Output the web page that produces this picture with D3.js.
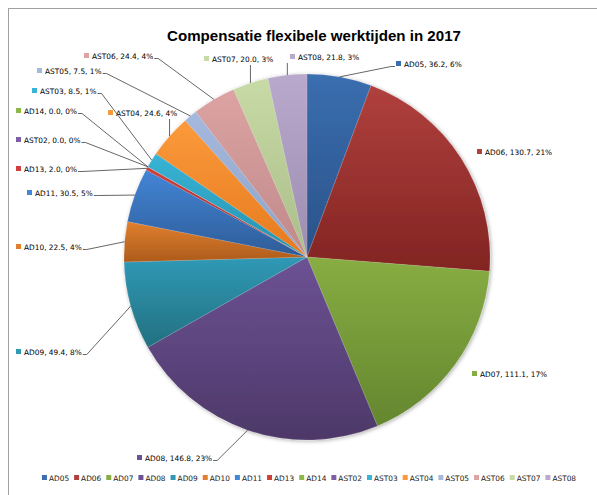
<!DOCTYPE html>
<html>
<head>
<meta charset="utf-8">
<script src="https://cdn.jsdelivr.net/npm/d3@7"></script>
<style>
  body { margin: 0; background: #fff; }
  .lbl { font-family: "DejaVu Sans", Verdana, sans-serif; font-size: 7.4px; fill: #000; }
  .leg { font-family: "DejaVu Sans", Verdana, sans-serif; font-size: 7.4px; fill: #222; }
</style>
</head>
<body>
<div id="chart"></div>
<script>
var svgWidth = 597;
var svgHeight = 495;

// chart data
var categories = ["AD05", "AD06", "AD07", "AD08", "AD09", "AD10", "AD11", "AD13",
  "AD14", "AST02", "AST03", "AST04", "AST05", "AST06", "AST07", "AST08"];
var values = [36.2, 130.7, 111.1, 146.8, 49.4, 22.5, 30.5, 2.0,
  0.0, 0.0, 8.5, 24.6, 7.5, 24.4, 20.0, 21.8];

// slice colours (top, bottom of the gradient)
var colorsTop = ["#3a6eb0", "#b0403d", "#87ad43", "#6c5294", "#3099b6", "#e0802f",
  "#4385d6", "#d13f3c", "#8db849", "#7d5fa5", "#38b4d6", "#fb9a3c",
  "#a5b9de", "#dca3a2", "#c8daa6", "#b9a9cc"];
var colorsBottom = ["#2a5288", "#822422", "#64862e", "#4d3868", "#22707f", "#ad5b1c",
  "#2e5c98", "#a02a28", "#6a8c32", "#5a4078", "#2590ad", "#e67a1e",
  "#8fa2c6", "#c0898a", "#aabe8a", "#9c8db1"];

// label layout: x = left of marker, y = text middle, leader = where the line leaves
var labelLayout = {
  AD05:  { x: 396, y: 64,  leader: "left" },
  AD06:  { x: 477, y: 152, leader: "none" },
  AD07:  { x: 472, y: 374, leader: "none" },
  AD08:  { x: 137, y: 458, leader: "right" },
  AD09:  { x: 16,  y: 352, leader: "right" },
  AD10:  { x: 16,  y: 247, leader: "right" },
  AD11:  { x: 27,  y: 193, leader: "right" },
  AD13:  { x: 16,  y: 169, leader: "right" },
  AD14:  { x: 16,  y: 111, leader: "right" },
  AST02: { x: 16,  y: 140, leader: "right" },
  AST03: { x: 32,  y: 91,  leader: "right" },
  AST04: { x: 108, y: 113, leader: "below" },
  AST05: { x: 37,  y: 71,  leader: "right" },
  AST06: { x: 84,  y: 56,  leader: "right" },
  AST07: { x: 204, y: 59,  leader: "below" },
  AST08: { x: 290, y: 57,  leader: "below" }
};

var cx = 307, cy = 257, radius = 183;
var total = d3.sum(values);

var rows = categories.map(function(c, i) {
  return { name: c, value: values[i], i: i };
});

var svg = d3.select("#chart").append("svg")
  .attr("width", svgWidth)
  .attr("height", svgHeight);

var defs = svg.append("defs");

// gradient for each slice
rows.forEach(function(d) {
  var g = defs.append("linearGradient")
    .attr("id", "grad" + d.i)
    .attr("x1", 0).attr("y1", 0).attr("x2", 0).attr("y2", 1);
  g.append("stop").attr("offset", "0%").attr("stop-color", colorsTop[d.i]);
  g.append("stop").attr("offset", "100%").attr("stop-color", colorsBottom[d.i]);
});

var shadow = defs.append("filter").attr("id", "shadow")
  .attr("x", "-10%").attr("y", "-10%").attr("width", "120%").attr("height", "120%");
shadow.append("feGaussianBlur").attr("in", "SourceAlpha").attr("stdDeviation", 2);
shadow.append("feOffset").attr("dx", 1).attr("dy", 1).attr("result", "b");
shadow.append("feComponentTransfer").append("feFuncA").attr("type", "linear").attr("slope", 0.35);
var merge = shadow.append("feMerge");
merge.append("feMergeNode");
merge.append("feMergeNode").attr("in", "SourceGraphic");

// chart area border
svg.append("rect")
  .attr("x", 8.5).attr("y", 8.5)
  .attr("width", 620).attr("height", 520)
  .attr("fill", "none")
  .attr("stroke", "#a0a0a0");

// title
svg.append("text")
  .attr("x", 314)
  .attr("y", 41)
  .attr("text-anchor", "middle")
  .attr("textLength", 294)
  .attr("lengthAdjust", "spacingAndGlyphs")
  .style("font-family", "'Liberation Sans', Arial, sans-serif")
  .style("font-weight", "bold")
  .style("font-size", "14.5px")
  .text("Compensatie flexibele werktijden in 2017");

var pie = d3.pie().sort(null).value(function(d) { return d.value; });
var arcs = pie(rows);

var arc = d3.arc().innerRadius(0).outerRadius(radius);
var edge = d3.arc().innerRadius(radius).outerRadius(radius);

var pieGroup = svg.append("g")
  .attr("transform", `translate(${cx}, ${cy})`);

var slices = pieGroup.append("g").attr("filter", "url(#shadow)");
slices.selectAll("path")
  .data(arcs)
  .enter()
  .append("path")
  .attr("d", arc)
  .attr("fill", function(d) { return "url(#grad" + d.data.i + ")"; })
  .attr("stroke", "rgba(255,255,255,0.25)")
  .attr("stroke-width", 0.5);

// data labels
var labelsGroup = svg.append("g");
var linesGroup = svg.append("g");

arcs.forEach(function(d) {
  var lay = labelLayout[d.data.name];
  var pct = Math.round(d.data.value / total * 100);
  var txt = d.data.name + ", " + d.data.value.toFixed(1) + ", " + pct + "%";

  labelsGroup.append("rect")
    .attr("x", lay.x).attr("y", lay.y - 3)
    .attr("width", 5).attr("height", 5)
    .attr("fill", colorsTop[d.data.i]);

  var t = labelsGroup.append("text")
    .attr("class", "lbl")
    .attr("x", lay.x + 8)
    .attr("y", lay.y + 2.6)
    .text(txt);

  var w = t.node().getComputedTextLength();
  var p = edge.centroid(d);
  var px = p[0] + cx, py = p[1] + cy;
  var pts = null;

  if (lay.leader === "right") {
    var sx = lay.x + 8 + w + 1;
    pts = [[sx, lay.y + 2.5], [sx + 4, lay.y + 2.5], [px, py]];
  } else if (lay.leader === "left") {
    pts = [[lay.x - 1, lay.y + 2.5], [lay.x - 5, lay.y + 2.5], [px, py]];
  } else if (lay.leader === "below") {
    pts = [[px, lay.y + 6], [px, py]];
  }

  if (pts) {
    linesGroup.append("polyline")
      .attr("points", pts.map(function(q) { return q.join(","); }).join(" "))
      .attr("fill", "none")
      .attr("stroke", "#404040")
      .attr("stroke-width", 0.8);
  }
});

// legend
var legend = svg.append("g");
var lx = 0;
rows.forEach(function(d) {
  var item = legend.append("g").attr("transform", `translate(${lx}, 0)`);
  item.append("rect")
    .attr("x", 0).attr("y", -3)
    .attr("width", 5).attr("height", 5)
    .attr("fill", colorsTop[d.i]);
  var t = item.append("text")
    .attr("class", "leg")
    .attr("x", 7)
    .attr("y", 2.6)
    .text(d.name);
  lx += 7 + t.node().getComputedTextLength() + 5;
});
var legendWidth = lx - 5;
legend.attr("transform", `translate(${309 - legendWidth / 2}, 478)`);
</script>
</body>
</html>
